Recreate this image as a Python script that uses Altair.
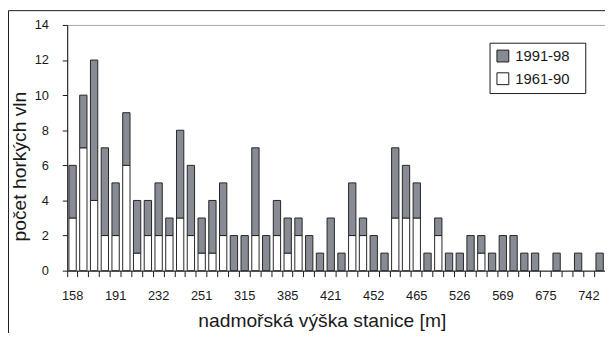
import altair as alt
import pandas as pd

# ---- data ----
station_index = list(range(50))
count_1961_90 = [3, 7, 4, 2, 2, 6, 1, 2, 2, 2,
                 3, 2, 1, 1, 2, 0, 0, 2, 0, 2,
                 1, 2, 0, 0, 0, 0, 2, 2, 0, 0,
                 3, 3, 3, 0, 2, 0, 0, 0, 1, 0,
                 0, 0, 0, 0, 0, 0, 0, 0, 0, 0]
count_1991_98 = [3, 3, 8, 5, 3, 3, 3, 2, 3, 1,
                 5, 4, 2, 3, 3, 2, 2, 5, 2, 2,
                 2, 1, 2, 1, 3, 1, 3, 1, 2, 1,
                 4, 3, 2, 1, 1, 1, 1, 2, 1, 1,
                 2, 2, 1, 1, 0, 1, 0, 1, 0, 1]
altitude_labels = ["158", "191", "232", "251", "315", "385", "421",
                   "452", "465", "526", "569", "675", "742"]
y_ticks = [0, 2, 4, 6, 8, 10, 12, 14]
periods = ["1991-98", "1961-90"]
period_colors = ["#868b94", "#ffffff"]
y_max = 14

rows = []
for i in station_index:
    if count_1961_90[i] > 0:
        rows.append({"station": i, "period": "1961-90", "count": count_1961_90[i], "ord": 0})
    if count_1991_98[i] > 0:
        rows.append({"station": i, "period": "1991-98", "count": count_1991_98[i], "ord": 1})
df = pd.DataFrame(rows)

arr = "[" + ",".join("'" + s + "'" for s in altitude_labels) + "]"
label_expr = "datum.value % 4 == 0 ? " + arr + "[datum.value / 4] : ''"
NBSP = "\u00a0"

FONT = "Liberation Sans"
TXT = "#1a1a1a"

bars = alt.Chart(df).mark_bar(
    width=alt.RelativeBandSize(0.68), stroke="#262626", strokeWidth=1
).encode(
    x=alt.X(
        "station:O",
        scale=alt.Scale(domain=station_index, paddingInner=0, paddingOuter=0),
        title="nadmořská výška stanice [m]",
        axis=alt.Axis(
            values=station_index, labelExpr=label_expr, bandPosition=0,
            labelAngle=0, labelOverlap=False, tickSize=6, labelPadding=13,
            grid=False, titleX=258, titleY=57, titleAlign="center",
            titleBaseline="alphabetic", titleAnchor="start",
        ),
    ),
    y=alt.Y(
        "count:Q", stack="zero",
        scale=alt.Scale(domain=[0, y_max], nice=False),
        title="počet horkých vln",
        axis=alt.Axis(
            values=y_ticks, grid=False, tickSize=5, labelOverlap=False,
            labelFlush=False, labelAlign="right", labelBaseline="middle",
            labelPadding=14, titleAngle=270, titleX=-42, titleY=143,
            titleAlign="center", titleBaseline="alphabetic", titleAnchor="start",
        ),
    ),
    color=alt.Color(
        "period:N",
        scale=alt.Scale(domain=periods, range=period_colors),
        legend=alt.Legend(
            title=NBSP, titleOrient="right", titlePadding=10,
            titleFontSize=15, orient="none", legendX=428, legendY=18,
            direction="vertical",
        ),
    ),
    order=alt.Order("ord:Q", sort="ascending"),
)

frame = alt.Chart(pd.DataFrame({"f": [0]})).mark_rect(
    filled=False, stroke="#1a1a1a", strokeWidth=1
).encode(
    x=alt.value(-59.5), x2=alt.value(800),
    y=alt.value(-14.5), y2=alt.value(800),
)

chart = alt.layer(bars, frame).properties(
    width=545, height=249,
    autosize=alt.AutoSizeParams(type="none"),
    padding={"left": 60, "top": 15, "right": 0, "bottom": 61},
    background="white",
).configure_view(stroke="#a8a8a8", strokeWidth=1).configure_axis(
    labelFont=FONT, titleFont=FONT, labelFontSize=13, titleFontSize=19.5,
    titleFontWeight="normal", labelColor=TXT, titleColor=TXT,
    domainColor="#1a1a1a", tickColor="#1a1a1a", domainWidth=1, tickWidth=1,
    grid=False,
).configure_axisY(
    labelOverlap=False, labelFlush=False, labelPadding=14, tickSize=5,
).configure_legend(
    symbolType="square", symbolSize=144,
    symbolStrokeColor="#1a1a1a", symbolStrokeWidth=1,
    labelFontSize=15, labelFont=FONT, labelColor=TXT, labelOffset=5,
    titleFont=FONT,
    strokeColor="#1a1a1a", fillColor="white", padding=6, rowPadding=6,
)

chart.save("out.html", embed_options={"renderer": "svg", "actions": False})
